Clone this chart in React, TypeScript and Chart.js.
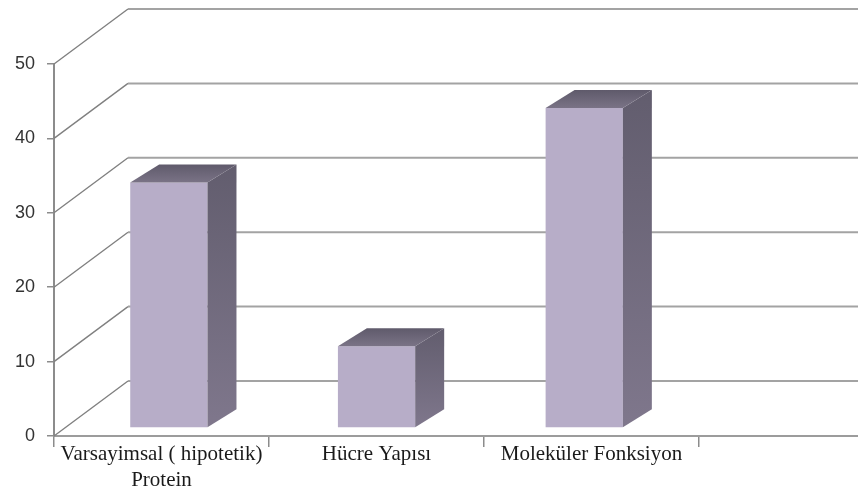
import React, { useEffect, useRef } from "react";
import { Chart, registerables } from "chart.js";

Chart.register(...registerables);

// Chart data
const categories: (string | string[])[] = [
  ["Varsayimsal ( hipotetik)", "Protein"],
  "Hücre Yapısı",
  "Moleküler Fonksiyon",
  "",
];
const counts: (number | null)[] = [33, 11, 43, null];
const yTickValues: number[] = [0, 10, 20, 30, 40, 50];

// 3D geometry (pixels)
const WALL_DX = 74;
const WALL_DY = -55;
const BAR_DX = 30;
const BAR_DY = -18;
const BAR_SHIFT_Y = -8;
// bars sit a little deeper than the front plane, so they are drawn
// slightly compressed toward the vanishing centre
const BAR_DEPTH_SCALE = 0.966;
const BAR_DEPTH_CENTER_X = 378;

const CANVAS_W = 914;
const CANVAS_H = 498;

const depthPlugin = {
  id: "depth3d",
  beforeDatasetsDraw(chart: any) {
    const { ctx, chartArea, scales } = chart;
    const y = scales.y;
    ctx.save();
    for (const v of yTickValues) {
      const py = y.getPixelForValue(v);
      // left wall diagonal
      ctx.strokeStyle = "#808080";
      ctx.lineWidth = 1.4;
      ctx.beginPath();
      ctx.moveTo(chartArea.left, py);
      ctx.lineTo(chartArea.left + WALL_DX, py + WALL_DY);
      ctx.stroke();
      // back wall gridline
      ctx.strokeStyle = "#a3a3a3";
      ctx.lineWidth = 2;
      ctx.beginPath();
      ctx.moveTo(chartArea.left + WALL_DX, py + WALL_DY);
      ctx.lineTo(chart.width + 10, py + WALL_DY);
      ctx.stroke();
    }
    ctx.restore();
    // push the bars back into the floor
    ctx.save();
    ctx.translate(BAR_DEPTH_CENTER_X, BAR_SHIFT_Y);
    ctx.scale(BAR_DEPTH_SCALE, 1);
    ctx.translate(-BAR_DEPTH_CENTER_X, 0);
  },
  afterDatasetsDraw(chart: any) {
    const { ctx } = chart;
    const meta = chart.getDatasetMeta(0);
    meta.data.forEach((bar: any, i: number) => {
      if (counts[i] == null) return;
      const { x, y, base, width } = bar.getProps(["x", "y", "base", "width"], true);
      const l = x - width / 2;
      const r = x + width / 2;

      // right side face
      const sg = ctx.createLinearGradient(0, y + BAR_DY, 0, base);
      sg.addColorStop(0, "#625d6e");
      sg.addColorStop(1, "#7f778c");
      ctx.fillStyle = sg;
      ctx.beginPath();
      ctx.moveTo(r, y);
      ctx.lineTo(r + BAR_DX, y + BAR_DY);
      ctx.lineTo(r + BAR_DX, base + BAR_DY);
      ctx.lineTo(r, base);
      ctx.closePath();
      ctx.fill();

      // top face
      const tg = ctx.createLinearGradient(0, y + BAR_DY, 0, y);
      tg.addColorStop(0, "#5f5a6b");
      tg.addColorStop(1, "#7a7386");
      ctx.fillStyle = tg;
      ctx.beginPath();
      ctx.moveTo(l, y);
      ctx.lineTo(l + BAR_DX, y + BAR_DY);
      ctx.lineTo(r + BAR_DX, y + BAR_DY);
      ctx.lineTo(r, y);
      ctx.closePath();
      ctx.fill();
    });
    ctx.restore();
  },
};

export default function App() {
  const canvasRef = useRef<HTMLCanvasElement | null>(null);

  useEffect(() => {
    const canvas = canvasRef.current;
    if (!canvas) return;
    const chart = new Chart(canvas, {
      type: "bar",
      data: {
        labels: categories,
        datasets: [
          {
            data: counts,
            backgroundColor: (c: any) => {
              const { ctx, chartArea } = c.chart;
              if (!chartArea) return "#b7adc8";
              const el = c.element;
              if (!el || el.x == null) return "#b7adc8";
              const w = el.width || 77;
              const g = ctx.createLinearGradient(el.x - w / 2, 0, el.x + w / 2, 0);
              g.addColorStop(0, "#b2a8c4");
              g.addColorStop(0.5, "#bab0cb");
              g.addColorStop(1, "#b3a9c5");
              return g;
            },
            borderWidth: 0,
            categoryPercentage: 1,
            barPercentage: 0.372,
            clip: false as any,
          },
        ],
      },
      options: {
        responsive: false,
        devicePixelRatio: 1,
        animation: false,
        layout: { padding: { top: 64, left: 0, right: 0, bottom: 0 } },
        plugins: {
          legend: { display: false },
          tooltip: { enabled: false },
        },
        scales: {
          x: {
            offset: true,
            grid: {
              offset: true,
              drawOnChartArea: false,
              drawTicks: true,
              tickLength: 11,
              color: "#8c8c8c",
              lineWidth: 1.5,
            },
            border: { display: true, color: "#9c9c9c", width: 2 },
            ticks: {
              autoSkip: false,
              maxRotation: 0,
              minRotation: 0,
              padding: -6,
              color: "#1a1a1a",
              font: { family: "'Liberation Serif', 'Times New Roman', serif", size: 21, lineHeight: 1.25 },
            },
            afterFit: (s: any) => {
              s.height = 62;
            },
          },
          y: {
            min: 0,
            max: 50,
            grid: {
              drawOnChartArea: false,
              drawTicks: true,
              tickLength: 7,
              color: "#8c8c8c",
              lineWidth: 1.5,
            },
            border: { display: true, color: "#8c8c8c", width: 2 },
            ticks: {
              stepSize: 10,
              padding: 12,
              color: "#333333",
              font: { family: "'Liberation Sans', Arial, sans-serif", size: 18 },
            },
            afterFit: (s: any) => {
              s.width = 54;
            },
          },
        },
      },
      plugins: [depthPlugin],
    });
    return () => chart.destroy();
  }, []);

  return (
    <div
      style={{
        position: "fixed",
        left: 0,
        top: 0,
        width: 858,
        height: 498,
        overflow: "hidden",
        background: "#ffffff",
      }}
    >
      <canvas
        ref={canvasRef}
        width={CANVAS_W}
        height={CANVAS_H}
        style={{ display: "block", width: CANVAS_W, height: CANVAS_H }}
      />
    </div>
  );
}
